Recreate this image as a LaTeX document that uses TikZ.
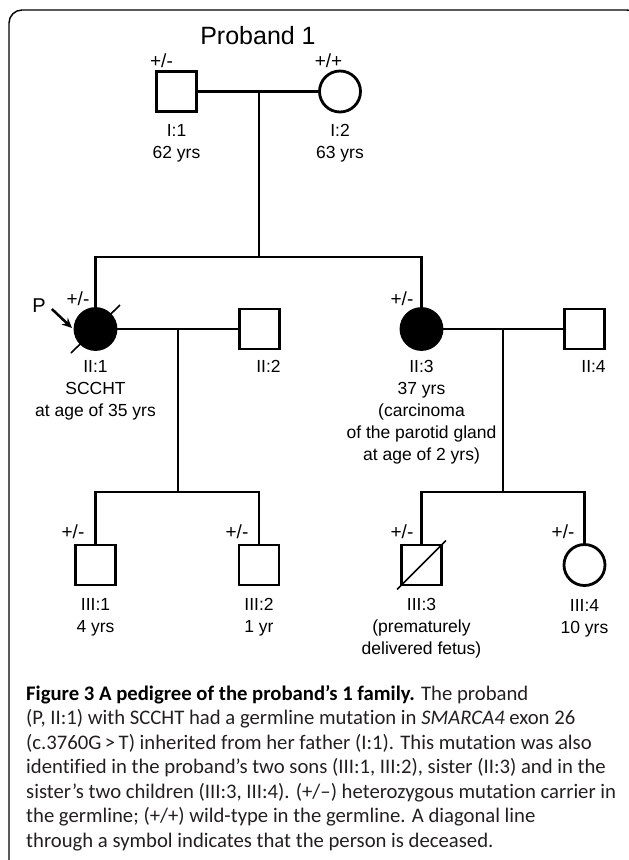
\documentclass[tikz,border=0pt]{standalone}
\usepackage{fontspec}
\setmainfont{Liberation Sans}
\newfontfamily\capfont[Ligatures=NoCommon]{Carlito}
\usepackage{xcolor}
\usetikzlibrary{arrows.meta, positioning}
\definecolor{captext}{RGB}{35,31,32}

\begin{document}
\begin{tikzpicture}[x=1pt, y=-1pt,
  male/.style={rectangle, draw, line width=2.8pt,
    minimum size=40pt, inner sep=0pt},
  female/.style={circle, draw, line width=2.8pt,
    minimum size=41pt, inner sep=0pt},
  affected/.style={fill=black},
  link/.style={line width=2.6pt},
  dead/.style={line width=1.6pt},
  geno/.style={font=\fontsize{19}{21}\selectfont, inner sep=0pt},
  lbl/.style={font=\fontsize{17.5}{22}\selectfont, align=center, inner sep=0pt},
  capbox/.style={font=\capfont\fontsize{20.7}{24.5}\selectfont, text=captext,
    align=left, inner sep=0pt}
]
  \useasboundingbox (0,0) rectangle (629,860);
  % Frame
  \draw[line width=1.4pt, rounded corners=13pt] (9,875) -- (9,10) -- (640,10) -- (640,875);
  \node[font=\fontsize{25}{27}\selectfont] (title) at (258,36) {Proband 1};
  % Generation I
  \node[male] (I1) at (176.5,91.5) {};
  \node[female] (I2) at (340,91.5) {};
  \node[geno] (gI1) at (161.5,61) {+/-};
  \node[geno] (gI2) at (328.5,61) {+/+};
  \node[lbl, below=11pt of I1] (lI1) {I:1\\62 yrs};
  \node[lbl, below=11pt of I2] (lI2) {I:2\\63 yrs};
  % Generation II
  \node[female, affected] (II1) at (95.5,329) {};
  \node[male] (II2) at (259.5,329) {};
  \node[female, affected] (II3) at (421.5,329) {};
  \node[male] (II4) at (584.5,329) {};
  \node[geno] (gII1) at (78,299) {+/-};
  \node[geno] (gII3) at (402,299) {+/-};
  \node[lbl, below=9.5pt of II1] (lII1) {II:1\\SCCHT\\at age of 35 yrs};
  \node[lbl, below left=9.5pt and 0pt of II2.south east] (lII2) {II:2};
  \node[lbl, below=9.5pt of II3] (lII3)
    {II:3\\37 yrs\\(carcinoma\\of the parotid gland\\at age of 2 yrs)};
  \node[lbl, below left=9.5pt and 0pt of II4.south east] (lII4) {II:4};
  \node[font=\fontsize{20}{22}\selectfont, inner sep=0pt] (P) at (39,306) {P};
  \coordinate (ptip) at (72,328);
  % Generation III
  \node[male] (III1) at (95.5,565) {};
  \node[male] (III2) at (259,565) {};
  \node[male] (III3) at (421.5,565) {};
  \node[female] (III4) at (584.5,565) {};
  \node[geno] (gIII1) at (73,532) {+/-};
  \node[geno] (gIII2) at (237,532) {+/-};
  \node[geno] (gIII3) at (402,532) {+/-};
  \node[geno] (gIII4) at (563,532) {+/-};
  \node[lbl, below=12pt of III1] (lIII1) {III:1\\4 yrs};
  \node[lbl, below=12pt of III2] (lIII2) {III:2\\1 yr};
  \node[lbl, below=12pt of III3] (lIII3) {III:3\\(prematurely\\delivered fetus)};
  \node[lbl, below=12pt of III4] (lIII4) {III:4\\10 yrs};
  % Lines
  \coordinate (m1) at (259,91.5);
  \coordinate (s1) at (259,257);
  \coordinate (m2) at (178,329);
  \coordinate (s2) at (178,492);
  \coordinate (m3) at (503,329);
  \coordinate (s3) at (503,492);
  \draw[link] (I1) -- (I2);
  \draw[link] (m1) -- (s1);
  \draw[link] (II1.north) |- (s1) -| (II3.north);
  \draw[link] (II1) -- (II2);
  \draw[link] (II3) -- (II4);
  \draw[link] (m2) -- (s2);
  \draw[link] (m3) -- (s3);
  \draw[link] (III1.north) |- (s2) -| (III2.north);
  \draw[link] (III3.north) |- (s3) -| (III4.north);
  % Deceased
  \draw[dead] ([shift={(-24.5,24)}]II1.center) -- ([shift={(24.5,-24)}]II1.center);
  \draw[dead] ([shift={(-3,3)}]III3.south west) -- ([shift={(3,-3)}]III3.north east);
  % Proband arrow
  \draw[-{Stealth[length=10pt,width=9pt]}, line width=2.5pt] ([shift={(6,3)}]P.east) -- (ptip);
  % Caption
  \node[capbox, anchor=north west] (caption) at (26,685)
    {{\bfseries\color{black}Figure 3 A pedigree of the proband’s 1 family.} The proband\\
     (P, II:1) with SCCHT had a germline mutation in \textit{SMARCA4} exon 26\\
     (c.3760G\,>\,T) inherited from her father (I:1). This mutation was also\\
     identified in the proband’s two sons (III:1, III:2), sister (II:3) and in the\\
     sister’s two children (III:3, III:4). (+/–) heterozygous mutation carrier in\\
     the germline; (+/+) wild-type in the germline. A diagonal line\\
     through a symbol indicates that the person is deceased.};
\end{tikzpicture}
\end{document}
